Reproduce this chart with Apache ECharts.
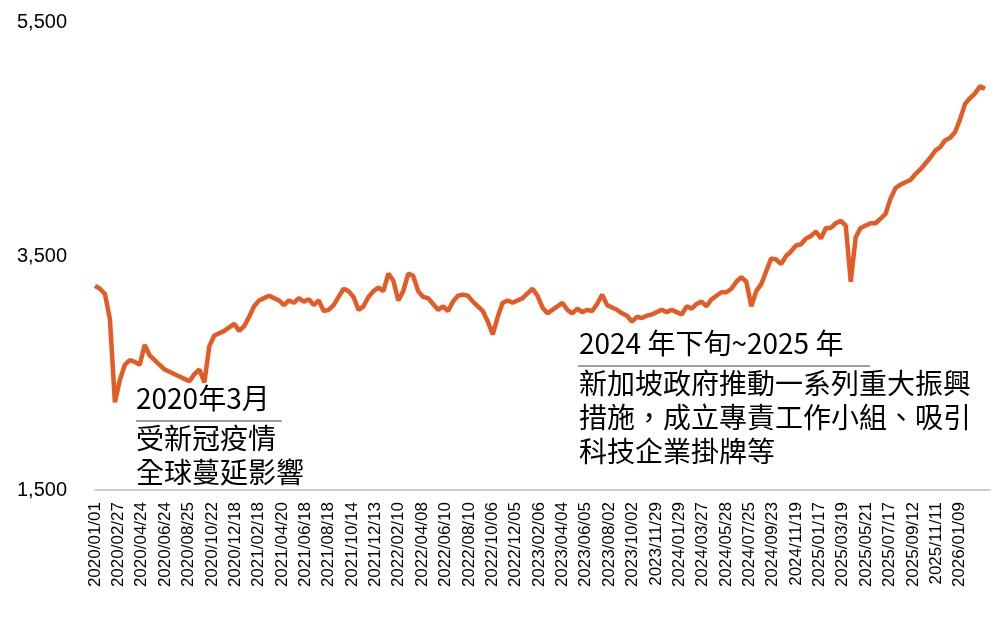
<!DOCTYPE html>
<html>
<head>
<meta charset="utf-8">
<script src="https://cdn.jsdelivr.net/npm/echarts@6/dist/echarts.min.js"></script>
<style>html,body{margin:0;padding:0;background:#fff}#main{width:1000px;height:620px}</style>
</head>
<body>
<div id="main"></div>
<script>
// 刻度標籤（約每 40 個交易日一個）
var tickLabels = ['2020/01/01', '2020/02/27', '2020/04/24', '2020/06/24', '2020/08/25', '2020/10/22', '2020/12/18',
    '2021/02/18', '2021/04/20', '2021/06/18', '2021/08/18', '2021/10/14', '2021/12/13',
    '2022/02/10', '2022/04/08', '2022/06/10', '2022/08/10', '2022/10/06', '2022/12/05',
    '2023/02/06', '2023/04/04', '2023/06/05', '2023/08/02', '2023/10/02', '2023/11/29',
    '2024/01/29', '2024/03/27', '2024/05/28', '2024/07/25', '2024/09/23', '2024/11/19',
    '2025/01/17', '2025/03/19', '2025/05/21', '2025/07/17', '2025/09/12', '2025/11/11', '2026/01/09']

// 指數走勢（約每 8 個交易日取樣）
var indexValues = [
    3245, 3220, 3175, 2960, 2250, 2440, 2570, 2610, 2595, 2570,
    2740, 2650, 2610, 2570, 2530, 2510, 2490, 2470, 2450, 2430,
    2490, 2530, 2420, 2730, 2820, 2840, 2860, 2890, 2920, 2860,
    2900, 2980, 3070, 3120, 3140, 3160, 3140, 3120, 3080, 3120,
    3100, 3140, 3110, 3130, 3080, 3120, 3030, 3040, 3080, 3150,
    3220, 3200, 3150, 3040, 3070, 3150, 3200, 3230, 3200, 3350,
    3290, 3120, 3200, 3350, 3330, 3200, 3150, 3140, 3090, 3040,
    3070, 3030, 3110, 3160, 3170, 3160, 3110, 3070, 3030, 2940,
    2830, 2980, 3100, 3120, 3100, 3120, 3140, 3180, 3220, 3160,
    3060, 3010, 3040, 3070, 3100, 3040, 3010, 3050, 3020, 3040,
    3030, 3090, 3170, 3080, 3060, 3040, 3010, 2990, 2940, 2980,
    2970, 2990, 3000, 3020, 3040, 3020, 3040, 3020, 3000, 3070,
    3050, 3090, 3110, 3070, 3130, 3160, 3190, 3190, 3220, 3280,
    3320, 3280, 3070, 3200, 3260, 3370, 3480, 3470, 3430, 3500,
    3540, 3590, 3600, 3650, 3670, 3710, 3650, 3740, 3740, 3780,
    3800, 3760, 3280, 3660, 3740, 3760, 3780, 3780, 3820, 3860,
    3990, 4080, 4110, 4130, 4150, 4200, 4240, 4290, 4340, 4400,
    4430, 4490, 4510, 4560, 4670, 4800, 4850, 4890, 4950, 4930
]

var samplesPerTick = 4.7
var seriesData = indexValues.map(function(v, i) {
    return [i / samplesPerTick, v]
})

var chart = echarts.init(document.getElementById('main'))
var textStyle = { fontSize: 28, fill: '#000', fontFamily: 'Noto Sans CJK TC' }

chart.setOption({
    animation: false,
    grid: { left: 95, right: 10, top: 22, bottom: 130, containLabel: false },
    xAxis: {
        type: 'value',
        min: 0,
        max: 38.3,
        interval: 1,
        axisLine: { lineStyle: { color: '#bfbfbf', width: 1.5 } },
        axisTick: { show: false },
        splitLine: { show: false },
        axisLabel: {
            rotate: 90,
            fontSize: 17,
            color: '#000',
            fontFamily: 'Liberation Sans',
            margin: 12,
            showMaxLabel: false,
            formatter: function(v) {
                return tickLabels[Math.round(v)] || ''
            }
        }
    },
    yAxis: {
        type: 'value',
        min: 1500,
        max: 5500,
        interval: 2000,
        axisLine: { show: false },
        axisTick: { show: false },
        splitLine: { show: false },
        axisLabel: {
            fontSize: 20,
            color: '#000',
            fontFamily: 'Liberation Sans',
            margin: 28,
            formatter: function(v) { return v.toLocaleString('en-US') }
        }
    },
    series: [{
        type: 'line',
        data: seriesData,
        showSymbol: false,
        lineStyle: { color: '#E45B25', width: 4.5 },
        itemStyle: { color: '#E45B25' }
    }],
    graphic: [
        { type: 'text', left: 136, top: 384, style: Object.assign({ text: '2020年3月' }, textStyle) },
        { type: 'line', shape: { x1: 136, y1: 421, x2: 282, y2: 421 }, style: { stroke: '#7f7f7f', lineWidth: 1.5 } },
        { type: 'text', left: 136, top: 421, style: Object.assign({ text: '受新冠疫情\n全球蔓延影響', lineHeight: 34 }, textStyle) },
        { type: 'text', left: 579, top: 329, style: Object.assign({ text: '2024 年下旬~2025 年' }, textStyle) },
        { type: 'line', shape: { x1: 578, y1: 366, x2: 870, y2: 366 }, style: { stroke: '#7f7f7f', lineWidth: 1.5 } },
        { type: 'text', left: 579, top: 366, style: Object.assign({ text: '新加坡政府推動一系列重大振興\n措施，成立專責工作小組、吸引\n科技企業掛牌等', lineHeight: 34 }, textStyle) }
    ]
})
</script>
</body>
</html>
